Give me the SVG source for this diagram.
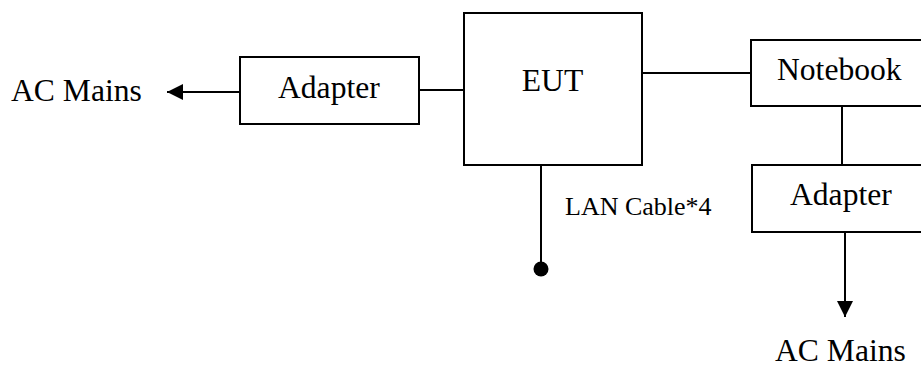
<svg xmlns="http://www.w3.org/2000/svg" width="921" height="368" viewBox="0 0 921 368">
<style>
.box{fill:#fff;stroke:#000;stroke-width:2}
.ln{fill:none;stroke:#000;stroke-width:2}
.t{font-family:"Liberation Serif","Times New Roman",serif;fill:#000;font-size:31.6px}
</style>
<defs>
<marker id="ah" markerUnits="userSpaceOnUse" markerWidth="16" markerHeight="16" refX="16" refY="8" orient="auto">
<path d="M0,0 L16,8 L0,16 Z" fill="#000"/>
</marker>
</defs>
<rect width="921" height="368" fill="#fff"/>
<g id="connectors">
<line class="ln" x1="240" y1="92" x2="167" y2="92" marker-end="url(#ah)"/>
<line class="ln" x1="419" y1="90" x2="464" y2="90"/>
<line class="ln" x1="642" y1="73" x2="751" y2="73"/>
<line class="ln" x1="842" y1="106" x2="842" y2="165"/>
<line class="ln" x1="845" y1="232" x2="845" y2="317" marker-end="url(#ah)"/>
<line class="ln" x1="541" y1="165" x2="541" y2="269"/>
<circle cx="541" cy="269" r="7.5" fill="#000"/>
</g>
<g id="ac-mains-left"><text class="t" x="11" y="101">AC Mains</text></g>
<g id="adapter-left">
<rect class="box" x="240" y="57" width="179" height="67"/>
<text class="t" x="278" y="98">Adapter</text>
</g>
<g id="eut">
<rect class="box" x="464" y="13" width="178" height="152"/>
<text class="t" x="552.5" y="91" text-anchor="middle">EUT</text>
</g>
<g id="notebook">
<rect class="box" x="751" y="40" width="180" height="66"/>
<text class="t" x="777" y="80">Notebook</text>
</g>
<g id="adapter-right">
<rect class="box" x="752" y="165" width="180" height="67"/>
<text class="t" x="790" y="205">Adapter</text>
</g>
<g id="lan-label"><text class="t" x="565" y="215" style="font-size:26px">LAN Cable*4</text></g>
<g id="ac-mains-bottom"><text class="t" x="775" y="361">AC Mains</text></g>
</svg>
